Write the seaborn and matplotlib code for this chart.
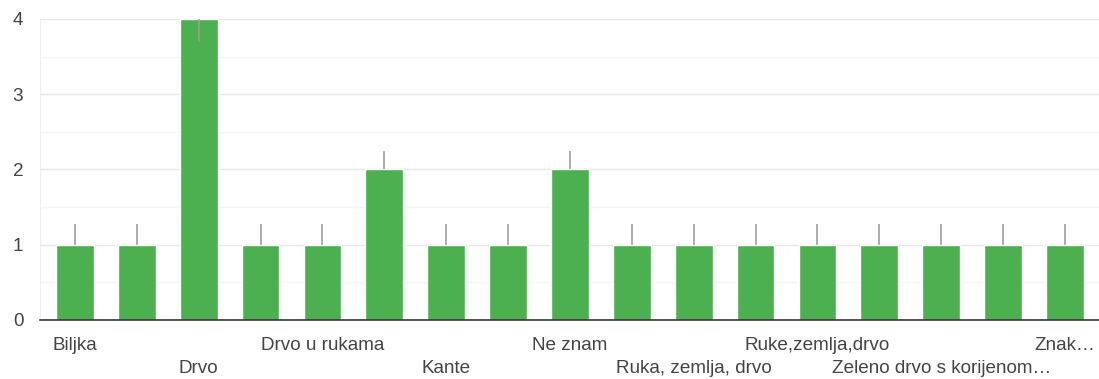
import matplotlib.pyplot as plt
import numpy as np
import pandas as pd
import seaborn as sb

# podaci sa grafikona (prikazane su samo neke oznake kategorija)
oznake = ["Biljka", "", "Drvo", "", "Drvo u rukama", "", "Kante", "", "Ne znam", "",
          "Ruka, zemlja, drvo", "", "Ruke,zemlja,drvo", "", "Zeleno drvo s korijenom…", "", "Znak…"]
vrijednosti = [1, 1, 4, 1, 1, 2, 1, 1, 2, 1, 1, 1, 1, 1, 1, 1, 1]
greska_gore = [0.27, 0.27, 0.0, 0.27, 0.27, 0.25, 0.27, 0.27, 0.25, 0.27, 0.27, 0.27, 0.27, 0.27, 0.27, 0.27, 0.27]
greska_dolje = [0, 0, 0.3, 0, 0, 0, 0, 0, 0, 0, 0, 0, 0, 0, 0, 0, 0]
y_oznake = [0, 1, 2, 3, 4]

ZELENA = "#4caf50"
SIVA_TEKST = "#444444"

sb.set_style("white")
plt.rcParams['font.family'] = ['Liberation Sans', 'DejaVu Sans']

df = pd.DataFrame({"idx": list(range(len(vrijednosti))), "broj": vrijednosti})

fig = plt.figure(figsize=(10.99, 3.79), dpi=100)
ax = fig.add_axes([0.0364, 0.1557, 0.9636, 0.7943])

sb.barplot(data=df, x="idx", y="broj", color=ZELENA, saturation=1, width=0.61, ax=ax, zorder=2)
ax.errorbar(df["idx"], df["broj"], yerr=[greska_dolje, greska_gore], fmt="none",
            ecolor="#9e9e9e", elinewidth=1.2, capsize=0, zorder=3, clip_on=True)

ax.set_ylim(0, 4)
ax.set_xlim(-0.565, 16.55)
ax.set_yticks(y_oznake)
ax.set_yticks([0.5, 1.5, 2.5, 3.5], minor=True)
ax.grid(axis="y", which="major", color="#e8e8e8", linewidth=1.0, zorder=0)
ax.grid(axis="y", which="minor", color="#f4f4f4", linewidth=1.0, zorder=0)
ax.set_axisbelow(True)

# oznake u dva reda, naizmjenično (drugi red dobiva veći razmak)
ax.set_xticks(range(len(oznake)))
ax.set_xticklabels(oznake, fontsize=13.6, color=SIVA_TEKST)
ax.tick_params(axis="x", length=0, pad=12)
for i, tick in enumerate(ax.xaxis.get_major_ticks()):
    if i % 4 == 2:
        tick.set_pad(28.5)
ax.tick_params(axis="y", length=0, pad=12, labelsize=13.6, labelcolor=SIVA_TEKST)
for lab in ax.get_yticklabels():
    lab.set_horizontalalignment("right")

ax.set_xlabel("")
ax.set_ylabel("")
for s in ["top", "right"]:
    ax.spines[s].set_visible(False)
ax.spines["left"].set_color("#eeeeee")
ax.spines["bottom"].set_color("#333333")
ax.spines["bottom"].set_linewidth(1.2)
ax.spines["bottom"].set_zorder(4)

fig.savefig("out.png", dpi=100)
